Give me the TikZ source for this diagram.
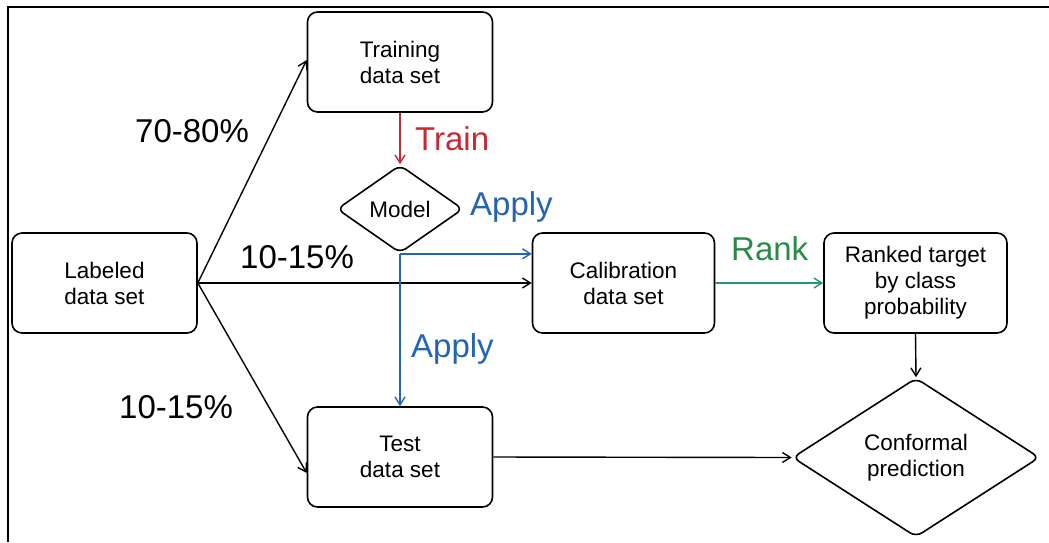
\documentclass[tikz,border=0pt]{standalone}
\usepackage{fontspec}
\setmainfont{Liberation Sans}
\usetikzlibrary{shapes.geometric,arrows.meta,calc}
\definecolor{trainred}{RGB}{200,40,50}
\definecolor{applyblue}{RGB}{35,100,180}
\definecolor{rankgreen}{RGB}{40,140,70}
\definecolor{rankline}{RGB}{40,150,110}
\begin{document}
\begin{tikzpicture}[x=1pt,y=-1pt,
  box/.style={draw,line width=1.6pt,rounded corners=10pt,minimum width=185pt,minimum height=100pt,align=center,inner sep=2pt,font=\fontsize{22.5}{26}\selectfont},
  dia/.style={draw,diamond,line width=1.6pt,rounded corners=7pt,inner sep=0pt,align=center,font=\fontsize{22.5}{26}\selectfont},
  arr/.style={line width=1.4pt,-{Straight Barb[length=8pt,width=10pt]}},
  biglab/.style={anchor=base west,inner sep=0pt,font=\fontsize{33}{38}\selectfont}]
\useasboundingbox (0,0) rectangle (1049,542);
\draw[line width=2pt] (7.5,542) -- (7.5,7) -- (1049,7);
\node[box] (train) at (400,62) {Training\\data set};
\node[box] (lab) at (104.5,283) {Labeled\\data set};
\node[box,minimum width=182pt] (calib) at (623.5,283) {Calibration\\data set};
\node[box,minimum width=183pt] (rank) at (915.5,283) {Ranked target\\by class\\probability};
\node[box] (test) at (400,457) {Test\\data set};
\node[dia,minimum width=126pt,minimum height=88pt] (model) at (400,209) {Model};
\node[dia,minimum width=247pt,minimum height=159pt] (conf) at (916,457.5) {Conformal\\prediction};
% connectors
\draw[arr] (lab.east) -- ($(train.west)+(0,-2)$);
\draw[arr] (lab.east) -- (calib.west);
\draw[arr] (lab.east) -- ($(test.west)+(0,16)$);
\draw[arr,trainred] (train.south) -- (model.north);
\draw[arr,applyblue] (model.south) -- (model.south -| calib.west);
\draw[arr,applyblue] (model.south) -- (test.north);
\draw[arr,rankline] (calib.east) -- (rank.west);
\draw[arr] (rank.south) -- (conf.north);
\draw[arr] (test.east) -- (conf.west);
% labels
\node[biglab] (l1) at (135,142) {70-80\%};
\node[biglab] (l2) at (240,268) {10-15\%};
\node[biglab] (l3) at (119,418) {10-15\%};
\node[biglab,text=trainred] (ltrain) at (415,150) {Train};
\node[biglab,text=applyblue] (lapp1) at (470,215) {Apply};
\node[biglab,text=applyblue] (lapp2) at (411,357) {Apply};
\node[biglab,text=rankgreen] (lrank) at (731,260) {Rank};
\end{tikzpicture}
\end{document}
